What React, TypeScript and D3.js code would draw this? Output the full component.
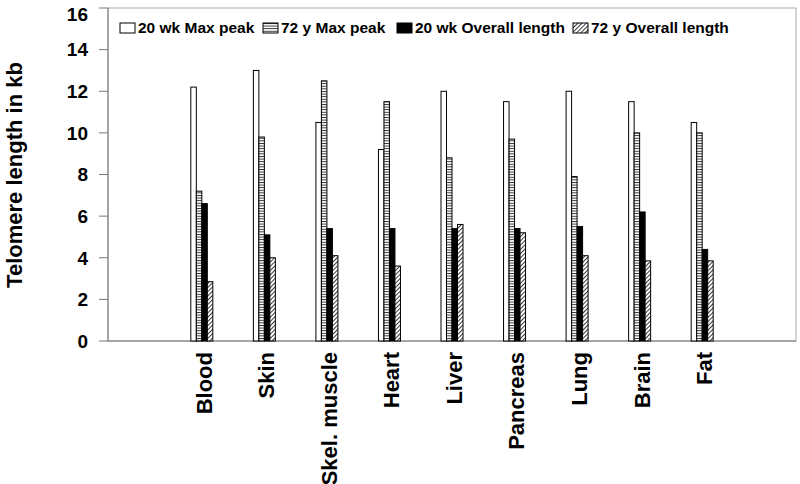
import React from 'react';
import * as d3 from 'd3';

const tissues = ['Blood', 'Skin', 'Skel. muscle', 'Heart', 'Liver', 'Pancreas', 'Lung', 'Brain', 'Fat'];
const seriesNames = ['20 wk Max peak', '72 y Max peak', '20 wk Overall length', '72 y Overall length'];

const maxPeak20wk = [12.2, 13.0, 10.5, 9.2, 12.0, 11.5, 12.0, 11.5, 10.5];
const maxPeak72y = [7.2, 9.8, 12.5, 11.5, 8.8, 9.7, 7.9, 10.0, 10.0];
const overall20wk = [6.6, 5.1, 5.4, 5.4, 5.4, 5.4, 5.5, 6.2, 4.4];
const overall72y = [2.85, 4.0, 4.1, 3.6, 5.6, 5.2, 4.1, 3.85, 3.85];

const yTicks = [0, 2, 4, 6, 8, 10, 12, 14, 16];

const seriesValues = [maxPeak20wk, maxPeak72y, overall20wk, overall72y];
const fills = ['#fff', 'url(#hlines)', '#000', 'url(#diag)'];

const W = 800;
const H = 484;
const left = 108;
const right = 796;
const top = 8;
const bottom = 341;
const font = '"Liberation Sans", Arial, Helvetica, sans-serif';

// legend item x positions (square left edge)
const legendX = [120, 263, 397, 573];

export default function App() {
  const x = d3.scalePoint<string>().domain(tissues).range([left, right]).padding(1.5);
  const inner = d3.scaleBand<string>().domain(seriesNames).range([-11, 11]);
  const y = d3.scaleLinear().domain([0, 16]).range([bottom, top]);

  return (
    <svg width={W} height={H} style={{ position: 'absolute', left: 0, top: 0, background: '#fff' }}>
      <defs>
        <pattern id="hlines" width="4" height="2.6" patternUnits="userSpaceOnUse">
          <rect width="4" height="2.6" fill="#fff" />
          <line x1="0" y1="0.5" x2="4" y2="0.5" stroke="#222" strokeWidth="0.9" />
        </pattern>
        <pattern id="diag" width="3" height="3" patternUnits="userSpaceOnUse" patternTransform="rotate(45)">
          <rect width="3" height="3" fill="#fff" />
          <line x1="0.5" y1="0" x2="0.5" y2="3" stroke="#222" strokeWidth="0.9" />
        </pattern>
      </defs>

      {/* plot frame */}
      <rect x={left} y={top} width={right - left} height={bottom - top} fill="none" stroke="#aaa" strokeWidth={1} />
      <line x1={left} y1={top} x2={left} y2={bottom} stroke="#777" />
      <line x1={left} y1={bottom} x2={right} y2={bottom} stroke="#777" />

      {/* y axis */}
      {yTicks.map(t => (
        <g key={t}>
          <line x1={left - 9} x2={left} y1={y(t)} y2={y(t)} stroke="#777" />
          <text
            x={88}
            y={Math.max(y(t), 14)}
            dy="0.36em"
            textAnchor="end"
            fontFamily={font}
            fontWeight="bold"
            fontSize={19}
          >
            {t}
          </text>
        </g>
      ))}
      <text
        transform={`translate(22, 175) rotate(-90)`}
        textAnchor="middle"
        fontFamily={font}
        fontWeight="bold"
        fontSize={22}
      >
        Telomere length in kb
      </text>

      {/* bars */}
      {tissues.map((t, i) => (
        <g key={t} transform={`translate(${x(t)}, 0)`}>
          {seriesNames.map((s, j) => {
            const v = seriesValues[j][i];
            return (
              <rect
                key={s}
                x={inner(s)}
                y={y(v)}
                width={inner.bandwidth()}
                height={y(0) - y(v)}
                fill={fills[j]}
                stroke="#000"
                strokeWidth={1}
              />
            );
          })}
        </g>
      ))}

      {/* x labels */}
      {tissues.map(t => (
        <text
          key={t}
          transform={`translate(${x(t)}, 352) rotate(-90)`}
          dy="0.45em"
          textAnchor="end"
          fontFamily={font}
          fontWeight="bold"
          fontSize={22}
        >
          {t}
        </text>
      ))}

      {/* legend */}
      {seriesNames.map((s, j) => (
        <g key={s} transform={`translate(${legendX[j]}, 23)`}>
          <rect x={0} y={0} width={15} height={10} fill={fills[j]} stroke="#000" strokeWidth={1} />
          <text x={18} y={10} fontFamily={font} fontWeight="bold" fontSize={15.5}>
            {s}
          </text>
        </g>
      ))}
    </svg>
  );
}
